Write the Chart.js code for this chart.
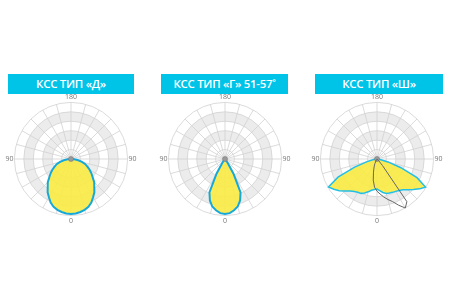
<!DOCTYPE html>
<html><head><meta charset="utf-8">
<script src="https://cdn.jsdelivr.net/npm/chart.js@4.4.0/dist/chart.umd.min.js"></script>
<style>
html,body{margin:0;padding:0;background:#fff;width:450px;height:300px;overflow:hidden;}
.title{position:absolute;top:74px;height:20px;background:#00c3e8;color:#fff;font-family:"Open Sans",sans-serif;font-weight:600;font-size:11.5px;line-height:20px;text-align:center;letter-spacing:-0.3px;}
.box{position:absolute;top:94px;width:132px;height:132px;}
</style></head>
<body>
<div class="title" style="left:8px;width:126px;">КСС ТИП «Д»</div>
<div class="title" style="left:161px;width:127px;">КСС ТИП «Г» 51-57˚</div>
<div class="title" style="left:315px;width:128px;">КСС ТИП «Ш»</div>
<div class="box" style="left:5px;"><canvas id="c1" width="132" height="132"></canvas></div>
<div class="box" style="left:159px;"><canvas id="c2" width="132" height="132"></canvas></div>
<div class="box" style="left:311px;"><canvas id="c3" width="132" height="132"></canvas></div>
<script>
// angle labels (degrees), clockwise from top, 5° step
const angleLabels = ['180','175','170','165','160','155','150','145','140','135','130','125','120','115','110','105','100','95',
 '90','85','80','75','70','65','60','55','50','45','40','35','30','25','20','15','10','5',
 '0','5','10','15','20','25','30','35','40','45','50','55','60','65','70','75','80','85',
 '90','95','100','105','110','115','120','125','130','135','140','145','150','155','160','165','170','175'];
const shownLabels = ['180','90','0'];
const scaleMax = 300;
const scaleStep = 50;

// КСС тип «Д»
const seriesD = [0,0,0,0,0,0,0,0,0,0,0,0,0,0,0,0,0,0,0,
 18,39,60,81,96,114,132,150,174,192,216,234,255,270,279,285,290,291,
 290,285,279,270,255,234,216,192,174,150,132,114,96,81,60,39,18,
 0,0,0,0,0,0,0,0,0,0,0,0,0,0,0,0,0,0];

// КСС тип «Г»
const seriesG = [0,0,0,0,0,0,0,0,0,0,0,0,0,0,0,0,0,0,0,0,0,0,0,0,0,0,0,0,
 6,24,90,195,234,261,276,288,291,
 288,276,261,234,195,90,24,6,
 0,0,0,0,0,0,0,0,0,0,0,0,0,0,0,0,0,0,0,0,0,0,0,0,0,0,0];

// КСС тип «Ш» (fill)
const seriesSh = [0,0,0,0,0,0,0,0,0,0,0,0,0,0,0,0,0,0,0,
 6,21,60,135,234,297,276,252,231,213,204,198,195,192,189,180,168,159,
 162,168,180,192,201,204,210,222,240,261,279,297,228,126,54,18,6,
 0,0,0,0,0,0,0,0,0,0,0,0,0,0,0,0,0,0];

// КСС тип «Ш» (cross-section line)
const seriesShLine = [0,0,0,0,0,0,0,0,0,0,0,0,0,0,0,0,0,0,0,0,0,0,0,0,0,0,
 3,12,45,276,300,270,240,222,204,186,171,
 150,114,72,45,27,9,3,
 0,0,0,0,0,0,0,0,0,0,0,0,0,0,0,0,0,0,0,0,0,0,0,0,0,0,0,0];

const grayBands = [[100,150],[200,250]];

const bandPlugin = {
  id:'bands',
  beforeDraw(chart){
    const s = chart.scales.r; const ctx = chart.ctx;
    ctx.save();
    ctx.fillStyle = '#ececec';
    grayBands.forEach(([a,b])=>{
      const r1 = s.getDistanceFromCenterForValue(a), r2 = s.getDistanceFromCenterForValue(b);
      ctx.beginPath();
      ctx.arc(s.xCenter, s.yCenter, r2, 0, Math.PI*2);
      ctx.arc(s.xCenter, s.yCenter, r1, 0, Math.PI*2, true);
      ctx.fill();
    });
    ctx.restore();
  }
};

function makeChart(id, datasets){
  new Chart(document.getElementById(id), {
    type:'radar',
    data:{labels:angleLabels, datasets},
    options:{
      responsive:false, animation:false,
      layout:{padding:0},
      plugins:{legend:{display:false}, tooltip:{enabled:false}},
      elements:{line:{tension:0}},
      scales:{r:{
        min:0, max:scaleMax,
        ticks:{display:false, stepSize:scaleStep},
        grid:{circular:true, color:'#d2d2d2', lineWidth:0.8},
        angleLines:{color:(c)=> c.index%3===0 ? '#d2d2d2' : 'rgba(0,0,0,0)', lineWidth:0.8},
        pointLabels:{
          padding:1,
          color:'#777',
          font:{family:'"Open Sans", sans-serif', size:7},
          callback:(l)=> shownLabels.includes(l) ? l : ''
        }
      }}
    },
    plugins:[bandPlugin]
  });
}

const centerDot = (c)=> c.dataIndex===18 ? 2.5 : 0;

makeChart('c1', [{data:seriesD, backgroundColor:'rgba(248,234,70,0.92)', borderColor:'#17a8da', borderWidth:2,
  pointRadius:centerDot, pointBackgroundColor:'#999', pointBorderColor:'#777', pointBorderWidth:0.5}]);
makeChart('c2', [{data:seriesG, backgroundColor:'rgba(248,234,70,0.92)', borderColor:'#17a8da', borderWidth:2,
  pointRadius:centerDot, pointBackgroundColor:'#999', pointBorderColor:'#777', pointBorderWidth:0.5}]);
makeChart('c3', [
  {data:seriesShLine, fill:false, backgroundColor:'rgba(0,0,0,0)', borderColor:'#666', borderWidth:1, pointRadius:0},
  {data:seriesSh, backgroundColor:'rgba(248,234,70,0.92)', borderColor:'#22bfe8', borderWidth:1.5,
  pointRadius:centerDot, pointBackgroundColor:'#999', pointBorderColor:'#777', pointBorderWidth:0.5}]);
</script>
</body></html>
